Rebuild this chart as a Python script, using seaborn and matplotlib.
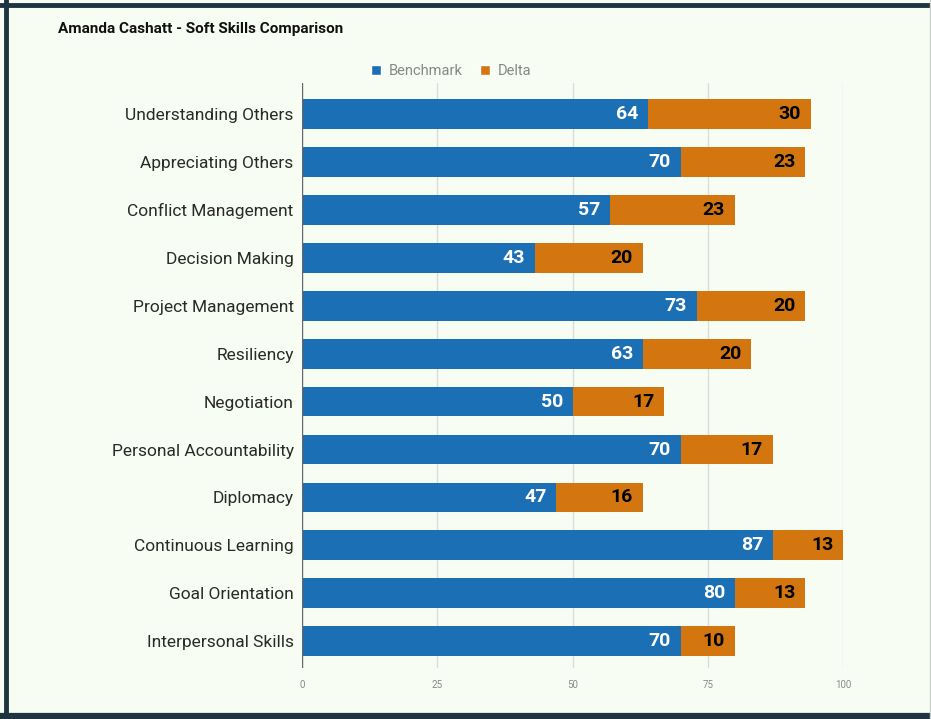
import matplotlib
matplotlib.use("Agg")
import matplotlib.pyplot as plt
import seaborn as sns
import pandas as pd
from matplotlib.patches import Patch
from matplotlib.lines import Line2D

skills = [
    "Understanding Others", "Appreciating Others", "Conflict Management",
    "Decision Making", "Project Management", "Resiliency", "Negotiation",
    "Personal Accountability", "Diplomacy", "Continuous Learning",
    "Goal Orientation", "Interpersonal Skills",
]
benchmark = [64, 70, 57, 43, 73, 63, 50, 70, 47, 87, 80, 70]
delta = [30, 23, 23, 20, 20, 20, 17, 17, 16, 13, 13, 10]
x_ticks = [0, 25, 50, 75, 100]

BLUE = "#1b6fb4"
ORANGE = "#d4760f"
BG = "#f8fdf3"
FRAME = "#1e3440"

df = pd.DataFrame({"skill": skills, "Benchmark": benchmark, "Delta": delta})
df["total"] = df["Benchmark"] + df["Delta"]

sns.set_theme(style="white")
plt.rcParams["font.family"] = ["Roboto", "DejaVu Sans"]

fig = plt.figure(figsize=(9.31, 7.19), dpi=100, facecolor=BG)
ax = fig.add_axes([302 / 931, 1 - 668 / 719, 541 / 931, (668 - 83) / 719])
ax.set_facecolor(BG)

# stacked bars: total in orange underneath, benchmark in blue on top
sns.barplot(data=df, y="skill", x="total", orient="h", color=ORANGE,
            width=0.62, saturation=1, linewidth=0, ax=ax, zorder=3)
sns.barplot(data=df, y="skill", x="Benchmark", orient="h", color=BLUE,
            width=0.62, saturation=1, linewidth=0, ax=ax, zorder=4)

for i, (b, d) in enumerate(zip(benchmark, delta)):
    ax.text(b - 1.8, i, str(b), color="white", fontsize=14, fontweight="bold",
            ha="right", va="center", zorder=6)
    ax.text(b + d - 1.8, i, str(d), color="black", fontsize=14, fontweight="bold",
            ha="right", va="center", zorder=6)

ax.set_xlim(0, 100)
ax.set_ylim(11.56, -0.65)
ax.set_xticks(x_ticks)
ax.set_xticklabels([str(t) for t in x_ticks])
ax.tick_params(axis="x", labelsize=7, colors="#8a8a8a", length=0, pad=9)
ax.tick_params(axis="y", labelsize=12.5, colors="#2a2a2a", length=0, pad=6)
for t in x_ticks[1:]:
    ax.axvline(t, color="#dadedb", lw=1, zorder=1)
ax.axvline(0, color="#666666", lw=1, zorder=5)
for s in ax.spines.values():
    s.set_visible(False)
ax.set_xlabel("")
ax.set_ylabel("")

fig.text(58 / 931, 1 - 29 / 719, "Amanda Cashatt - Soft Skills Comparison",
         fontsize=11, fontweight="bold", color="#111111", va="center", ha="left")

handles = [Patch(facecolor=BLUE, label="Benchmark"),
           Patch(facecolor=ORANGE, label="Delta")]
fig.legend(handles=handles, loc="center", bbox_to_anchor=(451 / 931, 1 - 71 / 719),
           ncol=2, frameon=False, fontsize=10.5, handlelength=0.7, handleheight=0.7,
           handletextpad=0.5, columnspacing=1.2, labelcolor="#888888")

# frame around the figure
fig.add_artist(Line2D([6 / 931, 6 / 931], [0, 1], color=FRAME, lw=3.5))
fig.add_artist(Line2D([0, 1], [1 - 5 / 719, 1 - 5 / 719], color=FRAME, lw=3.5))
fig.add_artist(Line2D([0, 1], [3 / 719, 3 / 719], color=FRAME, lw=4.5))
fig.add_artist(Line2D([929.5 / 931, 929.5 / 931], [0, 1], color="#c9cfcc", lw=1))

fig.savefig("out.png", dpi=100, facecolor=BG)
